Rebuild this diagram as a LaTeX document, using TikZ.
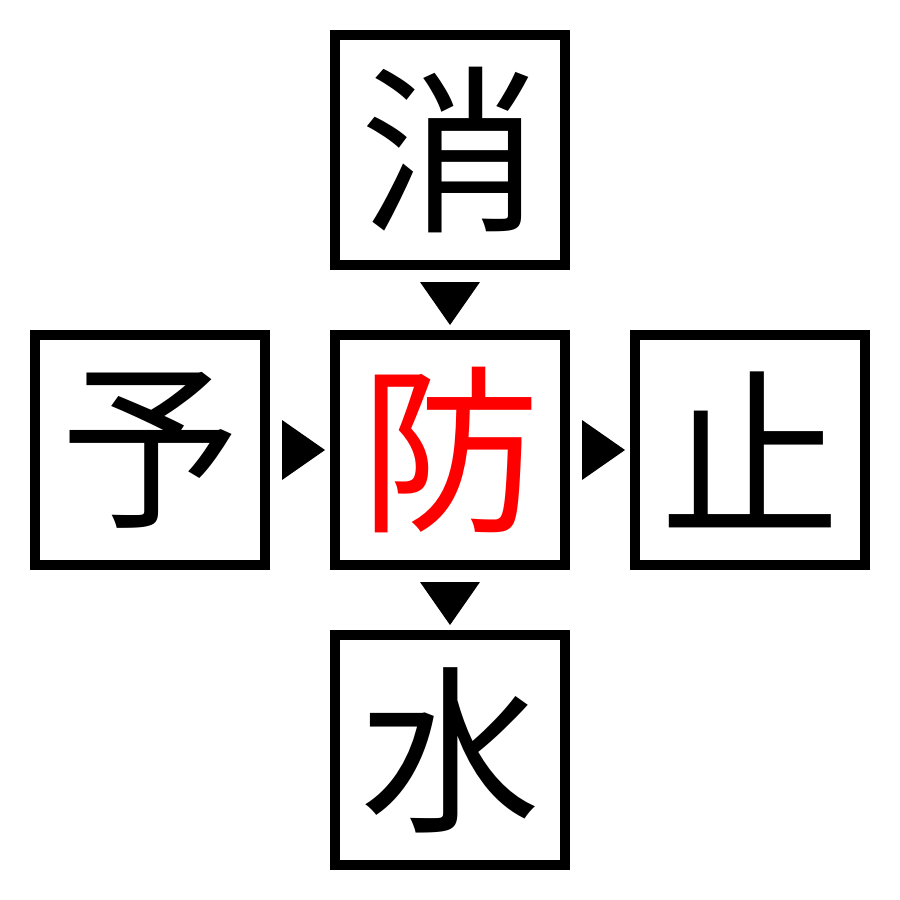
\documentclass[tikz,border=0pt]{standalone}
\usepackage{fontspec}
\newfontfamily\cjk{Noto Sans CJK JP}
\usetikzlibrary{calc}
\definecolor{pured}{RGB}{255,0,0}
\tikzset{
  charbox/.style={draw=black, line width=10pt, minimum size=230pt, inner sep=0pt,
    font=\cjk\fontsize{180}{180}\selectfont},
  tri/.style={fill=black, draw=none}
}
\begin{document}
\begin{tikzpicture}[x=1pt,y=-1pt]
\useasboundingbox[fill=white] (0,0) rectangle (900,900);
\node[charbox] (top) at (450,150) {消};
\node[charbox] (left) at (150,450) {予};
\node[charbox, text=pured] (mid) at (450,450) {防};
\node[charbox] (right) at (750,450) {止};
\node[charbox] (bot) at (450,750) {水};
% down arrow top -> mid
\fill[tri] ($(top.south)+(-30,12)$) -- ++(60,0) -- ($(top.south)+(0,55)$) -- cycle;
% down arrow mid -> bot
\fill[tri] ($(mid.south)+(-30,12)$) -- ++(60,0) -- ($(mid.south)+(0,55)$) -- cycle;
% right arrow left -> mid
\fill[tri] ($(left.east)+(12,-30)$) -- ++(0,60) -- ($(left.east)+(55,0)$) -- cycle;
% right arrow mid -> right
\fill[tri] ($(mid.east)+(12,-30)$) -- ++(0,60) -- ($(mid.east)+(55,0)$) -- cycle;
\end{tikzpicture}
\end{document}
